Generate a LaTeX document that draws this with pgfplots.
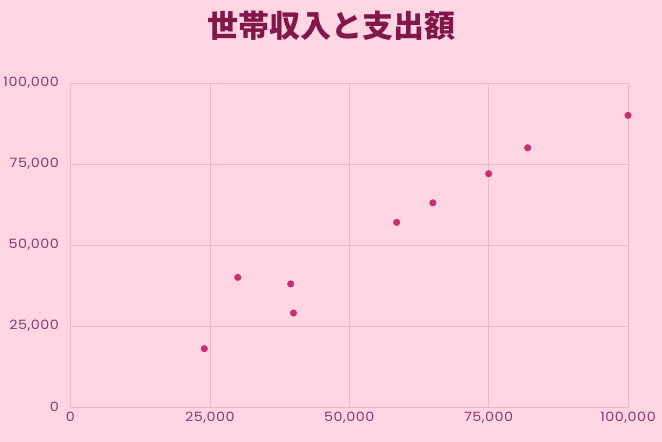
\documentclass[border=0pt]{standalone}
\usepackage{fontspec}
\setmainfont{Poppins}
\newfontfamily\tickfont{Poppins}[FakeStretch=1.12, LetterSpace=4]
\newfontfamily\cjk{Noto Sans CJK JP}
\usepackage{pgfplots}
\pgfplotsset{compat=1.18}
\definecolor{bg}{HTML}{FDD5E3}
\definecolor{gridc}{HTML}{EBB7CD}
\definecolor{tickc}{HTML}{8A3A6C}
\definecolor{titlec}{HTML}{821849}
\definecolor{dotc}{HTML}{C92F6C}
\begin{document}
\begin{tikzpicture}[x=1bp,y=1bp]
\fill[bg] (0,0) rectangle (662,442);
\node[font=\cjk\bfseries\fontsize{31bp}{36bp}\selectfont, text=titlec] at (331,416) {世帯収入と支出額};
\begin{axis}[
  at={(70.5bp,35bp)}, anchor=south west,
  scale only axis, width=557.5bp, height=324bp,
  xmin=0, xmax=100000, ymin=0, ymax=100000,
  xtick={0,25000,50000,75000,100000},
  ytick={0,25000,50000,75000,100000},
  scaled ticks=false,
  /pgf/number format/.cd, fixed, 1000 sep={,}, assume math mode=true,
  /pgfplots/.cd,
  grid=major,
  major grid style={gridc, line width=0.6bp},
  axis line style={gridc, line width=0.8bp},
  tick style={draw=none},
  ticklabel style={font=\tickfont\fontsize{12.8bp}{14bp}\selectfont, text=tickc},
  xticklabel style={yshift=-2bp},
  yticklabel style={xshift=-8bp},
  axis background/.style={fill=bg},
]
\addplot[only marks, mark=*, mark size=3.3bp, mark options={fill=dotc, draw=dotc}] coordinates {
(24000,18000) (30000,40000) (39500,38000) (40000,29000) (58500,57000)
(65000,63000) (75000,72000) (82000,80000) (100000,90000)
};
\end{axis}
\end{tikzpicture}
\end{document}
